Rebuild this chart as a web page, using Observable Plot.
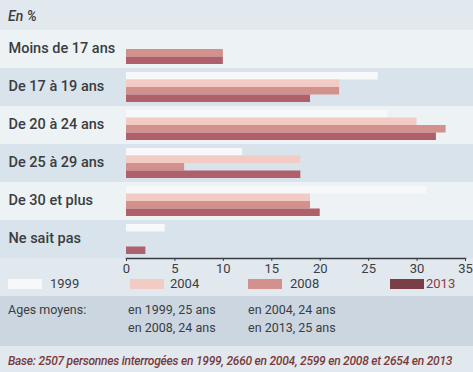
<!DOCTYPE html>
<html><head><meta charset="utf-8">
<script src="https://cdn.jsdelivr.net/npm/d3@7"></script>
<script src="https://cdn.jsdelivr.net/npm/@observablehq/plot@0.6"></script>
<style>
  html,body{margin:0;padding:0;}
  body{width:473px;height:372px;background:#e1e8ee;font-family:Roboto,"Open Sans",sans-serif;color:#3a3d42;overflow:hidden;position:relative;}
  #title{position:absolute;left:8px;top:8px;font-style:italic;font-size:14px;font-weight:500;color:#3a3d42;}
  #chart{position:absolute;left:0;top:0;}
  #legend{position:absolute;left:0;top:276px;width:473px;height:16px;font-size:13px;}
  .sw{display:inline-block;width:34px;height:10px;}
  #ages{position:absolute;left:0;top:296px;width:473px;height:50px;background:#cbd6e0;font-size:12.5px;}
  #ages span{position:absolute;}
  #foot{position:absolute;left:8px;top:354px;font-size:12px;font-style:italic;font-weight:500;color:#7a3a3c;white-space:nowrap;letter-spacing:-0.25px;}
</style></head>
<body>
<div id="chart"></div>
<div id="title">En %</div>
<div id="legend"></div>
<div id="ages"></div>
<div id="foot"></div>
<script>
const categories = ["Moins de 17 ans","De 17 à 19 ans","De 20 à 24 ans","De 25 à 29 ans","De 30 et plus","Ne sait pas"];
const years = ["1999","2004","2008","2013"];
const v1999 = [0, 26, 27, 12, 31, 4];
const v2004 = [0, 22, 30, 18, 19, 0];
const v2008 = [10, 22, 33, 6, 19, 0];
const v2013 = [10, 19, 32, 18, 20, 2];
const xTicks = [0,5,10,15,20,25,30,35];
const colors = ["#f7f8f9","#f1cbc4","#d3918d","#b0606a"];
const ageLabels = ["Ages moyens:","en 1999, 25 ans","en 2004, 24 ans","en 2008, 24 ans","en 2013, 25 ans"];
const footText = "Base: 2507 personnes interrogées en 1999, 2660 en 2004, 2599 en 2008 et 2654 en 2013";

document.getElementById("foot").textContent = footText;

const series = [v1999, v2004, v2008, v2013];
const rows = [];
series.forEach((vals, s) => vals.forEach((v, i) => rows.push({cat: categories[i], year: years[s], value: v, s})));

const bandH = 38, mTop = 30;
const barH = 7.5, padTop = 4;
const bgFill = ["#edf2f5","#d9e3eb"];

const barMarks = years.map((y, s) => Plot.barX(rows.filter(d => d.s === s && d.value > 0), {
  y: "cat", x: "value", fill: colors[s],
  insetTop: padTop + barH * s,
  insetBottom: bandH - padTop - barH * (s + 1)
}));

const chart = Plot.plot({
  width: 473, height: 280,
  marginTop: mTop, marginBottom: 22, marginLeft: 126, marginRight: 8,
  style: {background: "transparent", fontFamily: "Roboto, sans-serif", color: "#3a3d42"},
  x: {domain: [0, 35], ticks: xTicks, label: null},
  y: {domain: categories, padding: 0, label: null, axis: null},
  marks: [
    Plot.barX(categories, {y: d => d, x1: -13.2, x2: 36, fill: (d, i) => bgFill[i % 2]}),
    ...barMarks,
    Plot.text(categories, {y: d => d, text: d => d, frameAnchor: "left", dx: -118, textAnchor: "start", fontSize: 14.5, fontWeight: 500, fill: "#3a3d42", dy: -1}),
    Plot.frame({anchor: "bottom", stroke: "#3a3d42", strokeWidth: 1.5}),
    Plot.axisX({ticks: xTicks, tickSize: 3, tickPadding: 2, fontSize: 13, tickFormat: d => d, stroke: "#3a3d42", fill: "#3a3d42"})
  ]
});
document.getElementById("chart").appendChild(chart);

// legend
const legPos = [[8, 50], [130, 170], [248, 290], [390, 426]];
const leg = document.getElementById("legend");
years.forEach((y, i) => {
  const sw = document.createElement("span"); sw.className = "sw"; sw.style.background = colors[i];
  sw.style.position = "absolute"; sw.style.left = legPos[i][0] + "px"; sw.style.top = "3px";
  if (i === 3) sw.style.background = "#7a3f46";
  const t = document.createElement("span"); t.textContent = y;
  t.style.position = "absolute"; t.style.left = legPos[i][1] + "px"; t.style.top = "0px";
  if (i === 3) t.style.color = "#8a3a4a";
  leg.appendChild(sw); leg.appendChild(t);
});
// ages
const agePos = [[8, 6], [128, 6], [248, 6], [128, 24], [248, 24]];
const ages = document.getElementById("ages");
ageLabels.forEach((txt, i) => {
  const s = document.createElement("span"); s.textContent = txt;
  s.style.left = agePos[i][0] + "px"; s.style.top = agePos[i][1] + "px";
  ages.appendChild(s);
});
</script>
</body></html>
